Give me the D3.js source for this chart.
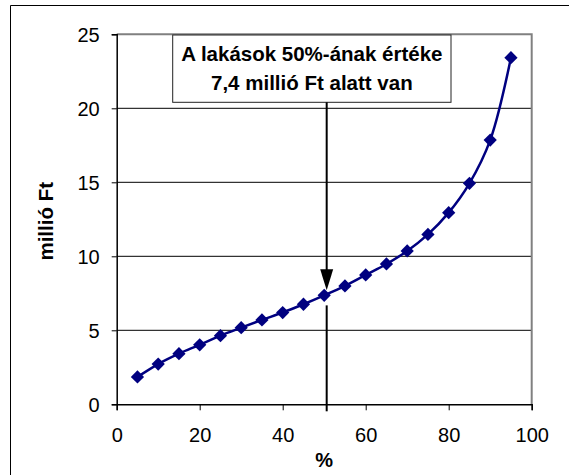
<!DOCTYPE html>
<html>
<head>
<meta charset="utf-8">
<script src="https://cdn.jsdelivr.net/npm/d3@7"></script>
<style>
  body { margin: 0; background: #fff; }
  svg { display: block; font-family: "Liberation Sans", Arial, sans-serif; }
</style>
</head>
<body>
<svg id="chart" width="569" height="475"></svg>
<script>
// percentiles of the dwelling value distribution
const percents = [5, 10, 15, 20, 25, 30, 35, 40, 45, 50, 55, 60, 65, 70, 75, 80, 85, 90, 95]
const values = [1.85, 2.72, 3.42, 4.02, 4.64, 5.18, 5.7, 6.2, 6.76, 7.36, 8.0, 8.74, 9.48, 10.36, 11.48, 12.95, 14.93, 17.85, 23.42]
const xTicks = [0, 20, 40, 60, 80, 100]
const yTicks = [0, 5, 10, 15, 20, 25]
const noteLines = ["A lakások 50%-ának értéke", "7,4 millió Ft alatt van"]
const medianX = 50.6

const svg = d3.select("#chart")
const pLeft = 116.7, pRight = 531.7, pTop = 34.3, pBottom = 404.3

const x = d3.scaleLinear().domain([0, 100]).range([pLeft, pRight])
const y = d3.scaleLinear().domain([0, 25]).range([pBottom, pTop])

// outer frame (only left and top edges are visible)
svg.append("path")
    .attr("d", `M10.5,475 V5.5 H569`)
    .attr("fill", "none")
    .attr("stroke", "#000")
    .attr("stroke-width", 1)

// gridlines
svg.append("g")
    .selectAll("line")
    .data(yTicks.filter(d => d > 0 && d < 25))
    .enter()
    .append("line")
    .attr("x1", pLeft).attr("x2", pRight)
    .attr("y1", d => y(d)).attr("y2", d => y(d))
    .attr("stroke", "#000")
    .attr("stroke-width", 1)

// grey plot border top + right
svg.append("path")
    .attr("d", `M${pLeft},${pTop} H${pRight} V${pBottom}`)
    .attr("fill", "none")
    .attr("stroke", "#808080")
    .attr("stroke-width", 2)

// axes
const yAxis = d3.axisLeft(y).tickValues(yTicks).tickSize(5).tickPadding(12)
const xAxis = d3.axisBottom(x).tickValues(xTicks).tickSize(6).tickPadding(18)

const gy = svg.append("g").attr("transform", `translate(${pLeft},0)`).call(yAxis)
const gx = svg.append("g").attr("transform", `translate(0,${pBottom})`).call(xAxis)
gy.select(".domain").attr("stroke", "#000").attr("stroke-width", 1.5)
gx.select(".domain").attr("stroke", "#000").attr("stroke-width", 1.5)
gy.selectAll(".tick line").attr("stroke", "#000")
gx.selectAll(".tick line").attr("stroke", "#000")
svg.selectAll(".tick text")
    .attr("font-size", 20)
    .attr("font-family", "Liberation Sans, Arial, sans-serif")
    .attr("fill", "#000")
gy.selectAll(".tick text").attr("dy", "0.35em")

// axis titles
svg.append("text")
    .attr("transform", `translate(53,${(pTop + pBottom) / 2 + 2}) rotate(-90)`)
    .attr("text-anchor", "middle")
    .attr("font-size", 20.5)
    .attr("font-weight", "bold")
    .text("millió Ft")

svg.append("text")
    .attr("x", x(50))
    .attr("y", 467)
    .attr("text-anchor", "middle")
    .attr("font-size", 20)
    .attr("font-weight", "bold")
    .text("%")

// series line
const pts = percents.map((p, i) => [p, values[i]])
svg.append("path")
    .datum(pts)
    .attr("d", d3.line().x(d => x(d[0])).y(d => y(d[1])).curve(d3.curveCatmullRom))
    .attr("fill", "none")
    .attr("stroke", "#000080")
    .attr("stroke-width", 2.5)

// diamond markers
svg.append("g")
    .selectAll("path")
    .data(pts)
    .enter()
    .append("path")
    .attr("d", d3.symbol().type(d3.symbolDiamond2).size(112))
    .attr("transform", d => `translate(${x(d[0])},${y(d[1])})`)
    .attr("fill", "#000080")

// annotation box
const boxX = 172.7, boxW = 278.3, boxY = 35, boxH = 67.3
svg.append("rect")
    .attr("x", boxX).attr("y", boxY)
    .attr("width", boxW).attr("height", boxH)
    .attr("fill", "#fff")
    .attr("stroke", "#222")
    .attr("stroke-width", 1)

svg.append("g")
    .selectAll("text")
    .data(noteLines)
    .enter()
    .append("text")
    .attr("x", boxX + boxW / 2)
    .attr("y", (d, i) => 61 + i * 29)
    .attr("text-anchor", "middle")
    .attr("font-size", 20.5)
    .attr("font-weight", "bold")
    .text(d => d)

// arrow from box to the median point
const ax = x(medianX)
const medY = y(values[percents.indexOf(50)])
svg.append("line")
    .attr("x1", ax).attr("x2", ax)
    .attr("y1", boxY + boxH).attr("y2", medY - 12)
    .attr("stroke", "#000")
    .attr("stroke-width", 2)
svg.append("path")
    .attr("d", `M${ax - 6.5},${medY - 26} L${ax + 6.5},${medY - 26} L${ax},${medY - 5} Z`)
    .attr("fill", "#000")

// line from median point down to the axis
svg.append("line")
    .attr("x1", ax).attr("x2", ax)
    .attr("y1", medY + 10).attr("y2", pBottom + 7)
    .attr("stroke", "#000")
    .attr("stroke-width", 2)
</script>
</body>
</html>
